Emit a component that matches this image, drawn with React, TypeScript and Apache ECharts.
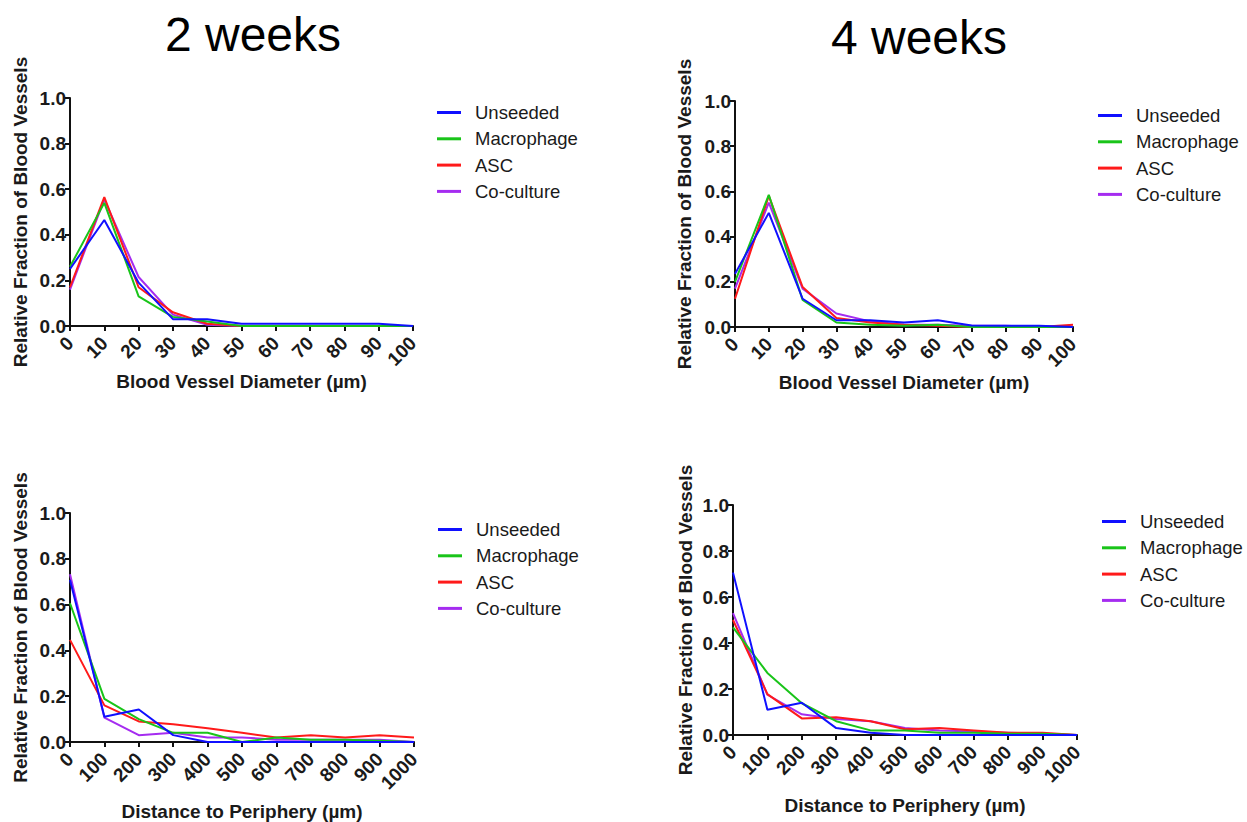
import React, { useEffect, useRef } from "react";
import * as echarts from "echarts";

const groups = ["Unseeded", "Macrophage", "ASC", "Co-culture"];
const diameterX = [0, 10, 20, 30, 40, 50, 60, 70, 80, 90, 100];
const distanceX = [0, 100, 200, 300, 400, 500, 600, 700, 800, 900, 1000];

// 2 weeks — diameter
const d2Unseeded = [0.25, 0.465, 0.19, 0.03, 0.03, 0.01, 0.01, 0.01, 0.01, 0.01, 0.0];
const d2Macrophage = [0.26, 0.54, 0.13, 0.04, 0.02, 0.0, 0.0, 0.0, 0.0, 0.0, 0.0];
const d2ASC = [0.17, 0.565, 0.17, 0.06, 0.01, 0.0, 0.0, 0.0, 0.0, 0.0, 0.0];
const d2Coculture = [0.16, 0.555, 0.215, 0.05, 0.005, 0.0, 0.0, 0.0, 0.0, 0.0, 0.0];

// 4 weeks — diameter
const d4Unseeded = [0.235, 0.505, 0.125, 0.03, 0.03, 0.02, 0.03, 0.007, 0.005, 0.005, 0.0];
const d4Macrophage = [0.2, 0.585, 0.12, 0.02, 0.01, 0.005, 0.01, 0.0, 0.0, 0.0, 0.0];
const d4ASC = [0.125, 0.58, 0.177, 0.04, 0.02, 0.01, 0.005, 0.0, 0.0, 0.0, 0.01];
const d4Coculture = [0.17, 0.55, 0.17, 0.06, 0.025, 0.01, 0.01, 0.005, 0.005, 0.0, 0.0];

// 2 weeks — distance
const p2Unseeded = [0.707, 0.11, 0.142, 0.03, 0.0, 0.0, 0.0, 0.0, 0.0, 0.0, 0.0];
const p2Macrophage = [0.606, 0.188, 0.1, 0.04, 0.04, 0.0, 0.02, 0.01, 0.01, 0.005, 0.0];
const p2ASC = [0.446, 0.16, 0.09, 0.077, 0.06, 0.04, 0.02, 0.03, 0.02, 0.03, 0.02];
const p2Coculture = [0.733, 0.106, 0.03, 0.04, 0.02, 0.02, 0.01, 0.01, 0.01, 0.01, 0.0];

// 4 weeks — distance
const p4Unseeded = [0.706, 0.11, 0.14, 0.03, 0.01, 0.0, 0.0, 0.0, 0.0, 0.0, 0.0];
const p4Macrophage = [0.468, 0.27, 0.138, 0.06, 0.02, 0.02, 0.01, 0.01, 0.005, 0.005, 0.0];
const p4ASC = [0.5, 0.178, 0.072, 0.077, 0.06, 0.025, 0.03, 0.02, 0.01, 0.01, 0.0];
const p4Coculture = [0.53, 0.175, 0.09, 0.07, 0.06, 0.03, 0.02, 0.015, 0.01, 0.005, 0.0];

const yTicks = [0, 0.2, 0.4, 0.6, 0.8, 1.0];

const colors: Record<string, string> = {
  Unseeded: "#1010ff",
  Macrophage: "#19c419",
  ASC: "#ff1a1a",
  "Co-culture": "#a52cf0",
};
const zOrder: Record<string, number> = { Unseeded: 5, Macrophage: 4, ASC: 3, "Co-culture": 2 };

const FONT = "'Liberation Sans', Arial, Helvetica, sans-serif";
const TXT = "#1a1a1a";

export default function App() {
  const ref = useRef<HTMLDivElement>(null);
  useEffect(() => {
    if (!ref.current) return;
    const chart = echarts.init(ref.current, null, { renderer: "svg" });

    const panels = [
      { grid: { left: 70, top: 98, width: 343, height: 228 }, xs: diameterX, max: 100, interval: 10, xName: "Blood Vessel Diameter (µm)", xGap: 46, yGap: 40, legend: { left: 437, top: 103 }, data: [d2Unseeded, d2Macrophage, d2ASC, d2Coculture] },
      { grid: { left: 735, top: 101, width: 338, height: 226 }, xs: diameterX, max: 100, interval: 10, xName: "Blood Vessel Diameter (µm)", xGap: 45, yGap: 41, legend: { left: 1098, top: 106 }, data: [d4Unseeded, d4Macrophage, d4ASC, d4Coculture] },
      { grid: { left: 70, top: 513, width: 344, height: 230 }, xs: distanceX, max: 1000, interval: 100, xName: "Distance to Periphery (µm)", xGap: 60, yGap: 40, legend: { left: 438, top: 520 }, data: [p2Unseeded, p2Macrophage, p2ASC, p2Coculture] },
      { grid: { left: 733, top: 505, width: 344, height: 230 }, xs: distanceX, max: 1000, interval: 100, xName: "Distance to Periphery (µm)", xGap: 61, yGap: 38, legend: { left: 1102, top: 512 }, data: [p4Unseeded, p4Macrophage, p4ASC, p4Coculture] },
    ];

    const axisLine = { show: true, lineStyle: { color: "#111", width: 2 } };
    const axisTick = { show: true, length: 5, inside: false, lineStyle: { color: "#111", width: 2 } };
    const labelStyle = { color: TXT, fontSize: 19, fontWeight: "bold" as const, fontFamily: FONT };

    const option: any = {
      animation: false,
      backgroundColor: "#ffffff",
      graphic: [
        { type: "text", x: 253, y: 34, style: { text: "2 weeks", fontSize: 48, fontFamily: FONT, fill: "#000", textAlign: "center", textVerticalAlign: "middle" } },
        { type: "text", x: 919, y: 37, style: { text: "4 weeks", fontSize: 48, fontFamily: FONT, fill: "#000", textAlign: "center", textVerticalAlign: "middle" } },
      ],
      grid: panels.map((p) => ({ ...p.grid, containLabel: false })),
      xAxis: panels.map((p, i) => ({
        type: "value",
        gridIndex: i,
        min: 0,
        max: p.max,
        interval: p.interval,
        splitLine: { show: false },
        axisLine,
        axisTick,
        axisLabel: {
          ...labelStyle,
          rotate: 45,
          margin: 14,
          formatter: (v: number) => String(v),
        },
        name: p.xName,
        nameLocation: "middle",
        nameGap: p.xGap,
        nameTextStyle: { ...labelStyle },
      })),
      yAxis: panels.map((p, i) => ({
        type: "value",
        gridIndex: i,
        min: 0,
        max: 1,
        interval: 0.2,
        splitLine: { show: false },
        axisLine,
        axisTick,
        axisLabel: {
          ...labelStyle,
          margin: 4,
          customValues: yTicks,
          formatter: (v: number) => v.toFixed(1),
        },
        name: "Relative Fraction of Blood Vessels",
        nameLocation: "middle",
        nameGap: p.yGap,
        nameTextStyle: { ...labelStyle },
      })),
      legend: panels.map((p) => ({
        data: groups,
        orient: "vertical",
        left: p.legend.left,
        top: p.legend.top,
        padding: 0,
        icon: "rect",
        itemWidth: 24,
        itemHeight: 3,
        itemGap: 7.3,
        selectedMode: false,
        textStyle: { fontSize: 18.5, lineHeight: 18, color: TXT, fontFamily: FONT, padding: [0, 0, 0, 9] },
      })),
      series: panels.flatMap((p, i) =>
        groups.map((g, k) => ({
          type: "line",
          name: g,
          xAxisIndex: i,
          yAxisIndex: i,
          z: zOrder[g],
          showSymbol: false,
          symbol: "none",
          color: colors[g],
          lineStyle: { color: colors[g], width: 2 },
          data: p.xs.map((x, j) => [x, p.data[k][j]]),
        }))
      ),
    };

    chart.setOption(option);
    return () => chart.dispose();
  }, []);

  return (
    <div
      ref={ref}
      style={{ position: "fixed", left: 0, top: 0, width: 1247, height: 822, background: "#fff" }}
    />
  );
}
